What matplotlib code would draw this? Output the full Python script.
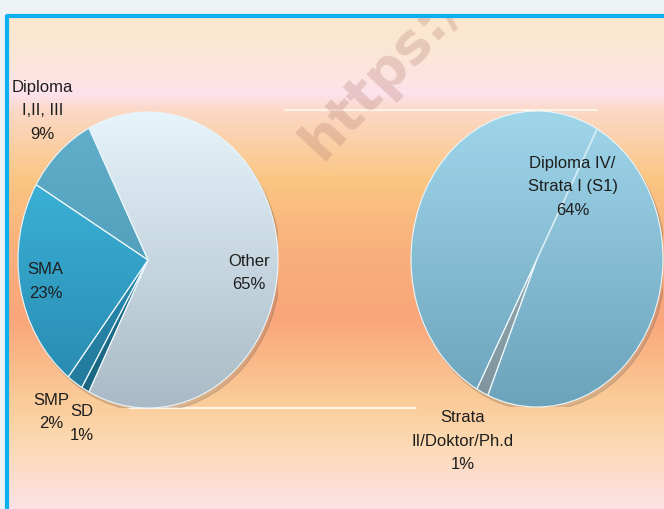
import numpy as np
import matplotlib
matplotlib.use("Agg")
import matplotlib.pyplot as plt
from matplotlib.colors import to_rgb
from matplotlib.patches import Ellipse

plt.rcParams['font.family'] = ['Liberation Sans Narrow', 'Liberation Sans', 'DejaVu Sans']

# main pie (share of respondents by education)
main_names = ['Other', 'Diploma\nI,II, III', 'SMA', 'SMP', 'SD']
main_values = [65, 9, 23, 2, 1]
# breakdown of "Other"
sub_names = ['Strata\nII/Doktor/Ph.d', 'Diploma IV/\nStrata I (S1)']
sub_values = [1, 64]

main_colors = [('#e6f4fb', '#a9bac6'), ('#62b0cc', '#4590ae'), ('#41bde3', '#2787ad'),
               ('#2f9cc4', '#22789a'), ('#237f9f', '#1a6580')]
sub_colors = [('#a9b9c0', '#7e949c'), ('#a0d6ea', '#6ba3bb')]

W, H = 664, 510
fig = plt.figure(figsize=(W / 100, H / 100), dpi=100)

# background gradient + frame
bg = fig.add_axes([0, 0, 1, 1])
bg.set_xlim(0, W)
bg.set_ylim(H, 0)
bg.axis('off')
stops_y = [18, 60, 95, 110, 180, 250, 320, 400, 440, 510]
stops_c = ['#fbe8cc', '#fce6d8', '#fde2ec', '#fbd9c9', '#fbc682', '#f9b07c',
           '#f9a67a', '#fbcb98', '#fcd8b0', '#fde2e6']
ys = np.arange(H)
cs = np.array([to_rgb(c) for c in stops_c])
grad = np.stack([np.interp(ys, stops_y, cs[:, k]) for k in range(3)], axis=1)
bg.imshow(grad[:, None, :], extent=(0, W, H, 0), aspect='auto', interpolation='bilinear')
bg.fill_between([0, W], 0, 16, color='#edf2f5', zorder=2)
bg.fill_between([0, 5], 0, H, color='#edf2f5', zorder=2)
bg.plot([5.5, W], [17, 17], color='#0db0ec', lw=3, zorder=3, solid_capstyle='butt')
bg.plot([6.5, 6.5], [16, H], color='#0db0ec', lw=3, zorder=3, solid_capstyle='butt')
# series lines
bg.plot([285, 597], [110.5, 110.5], color='#fff3e4', lw=1.6, zorder=1.5)
bg.plot([130, 415], [409, 409], color='#fff3e4', lw=1.6, zorder=1.5)
bg.text(322, 162, 'https://', rotation=47, rotation_mode='anchor', fontsize=40,
        fontweight='bold', family='DejaVu Sans', color='#b07a70', alpha=0.28, zorder=1.6)


def gradient_pie(ax, values, colors, start):
    wedges, _ = ax.pie(values, startangle=start, counterclock=True, radius=1,
                       wedgeprops=dict(edgecolor='#eaf6fb', linewidth=0.8))
    ax.set_aspect('auto')
    ax.add_patch(Ellipse((0.02, -0.025), 2.0, 2.0, color='#6a5a50', alpha=0.22, zorder=0))
    yy = np.linspace(0, 1, 200)
    for w, (top, bot) in zip(wedges, colors):
        t, b = np.array(to_rgb(top)), np.array(to_rgb(bot))
        img = b[None, :] * (1 - yy[:, None]) + t[None, :] * yy[:, None]
        im = ax.imshow(img[:, None, :], extent=(-1, 1, -1, 1), origin='lower',
                       aspect='auto', zorder=0.5)
        im.set_clip_path(w)
        w.set_facecolor('none')
        w.set_zorder(1)
    ax.set_xlim(-1, 1)
    ax.set_ylim(-1, 1)
    return wedges


def add_labels(ax, wedges, names, values, dists, shifts):
    for w, n, v, d, s in zip(wedges, names, values, dists, shifts):
        a = np.deg2rad((w.theta1 + w.theta2) / 2 + s)
        ax.text(d * np.cos(a), d * np.sin(a), f'{n}\n{v}%', ha='center', va='center',
                fontsize=12, color='#1e1e1e', linespacing=1.7, zorder=5)


# left pie
ax1 = fig.add_axes([18 / W, 1 - 409 / H, 260 / W, 296 / H])
ax1.patch.set_alpha(0)
w1 = gradient_pie(ax1, main_values, main_colors, -main_values[0] / 100 * 180)
add_labels(ax1, w1, main_names, main_values,
           [0.78, 1.30, 0.80, 1.26, 1.21], [-6, -4.5, -0.8, -1.8, 3.8])

# right pie
ax2 = fig.add_axes([411 / W, 1 - 408 / H, 252 / W, 296 / H])
ax2.patch.set_alpha(0)
w2 = gradient_pie(ax2, sub_values, sub_colors, 241.5)
a = np.deg2rad(w2[0].theta1 + 180)
ax2.plot([0, np.cos(a)], [0, np.sin(a)], color='#d8eef6', lw=1.2, zorder=2)
add_labels(ax2, w2, sub_names, sub_values, [1.36, 0.57], [0, -4])

fig.savefig('out.png', dpi=100)
